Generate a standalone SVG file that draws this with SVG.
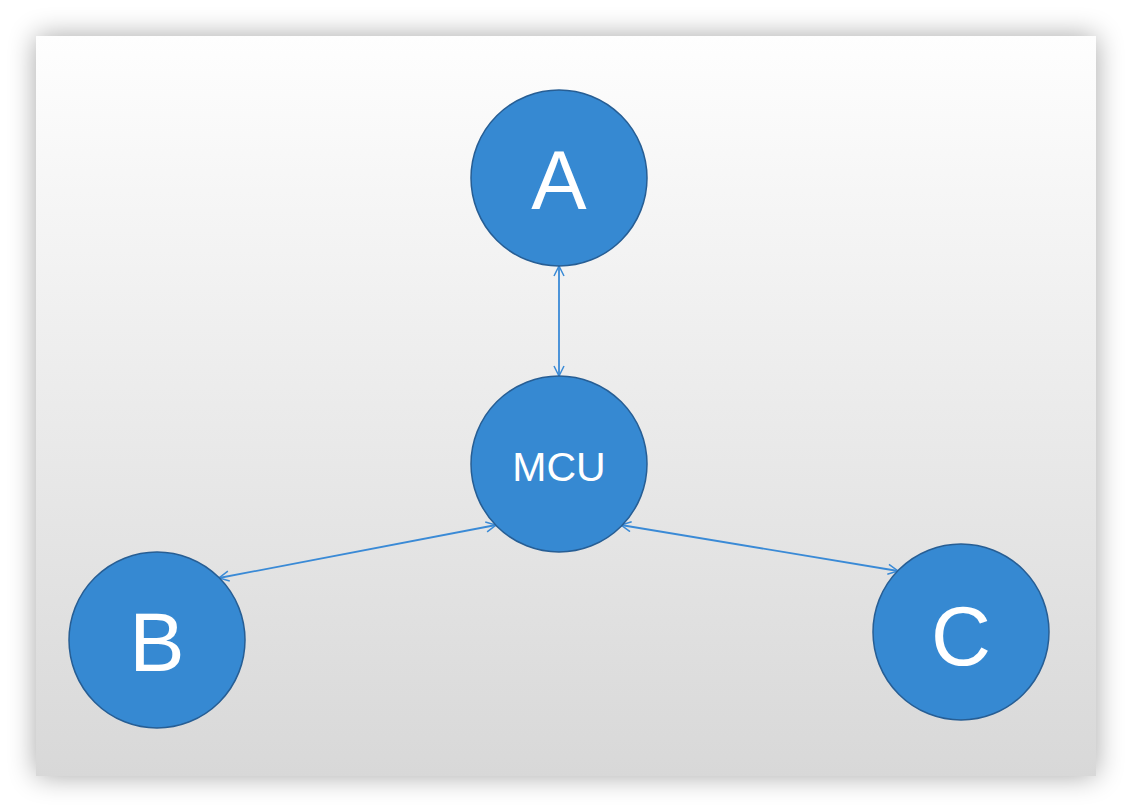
<svg xmlns="http://www.w3.org/2000/svg" width="1132" height="812" viewBox="0 0 1132 812">
<defs>
<linearGradient id="bg" x1="0" y1="0" x2="0" y2="1">
<stop offset="0" stop-color="#fefefe"/>
<stop offset="1" stop-color="#d8d8d8"/>
</linearGradient>
<filter id="sh" x="-10%" y="-10%" width="120%" height="120%">
<feGaussianBlur stdDeviation="14"/>
</filter>
<marker id="ah" viewBox="0 0 12 12" refX="11" refY="6" markerWidth="12" markerHeight="12" markerUnits="userSpaceOnUse" orient="auto-start-reverse">
<path d="M1,1 L11,6 L1,11" fill="none" stroke="#3a8ad6" stroke-width="1.5"/>
</marker>
<style>
.node{fill:#3689d2;stroke:#275e94;stroke-width:1.5}
.lbl{fill:#ffffff;font-family:"Liberation Sans",Arial,sans-serif;text-anchor:middle}
.con{stroke:#3a8ad6;stroke-width:1.8;fill:none;marker-start:url(#ah);marker-end:url(#ah)}
</style>
</defs>
<rect x="0" y="0" width="1132" height="812" fill="#ffffff"/>
<rect x="36" y="36" width="1060" height="740" fill="#000" opacity="0.35" filter="url(#sh)"/>
<rect x="36" y="36" width="1060" height="740" fill="url(#bg)"/>
<g id="connectors">
<line class="con" x1="559" y1="266" x2="559" y2="376"/>
<line class="con" x1="219" y1="578" x2="496" y2="525"/>
<line class="con" x1="621" y1="525" x2="898" y2="571"/>
</g>
<g id="node-A">
<circle class="node" cx="559" cy="178" r="88"/>
<text class="lbl" x="559" y="209" font-size="83">A</text>
</g>
<g id="node-MCU">
<circle class="node" cx="559" cy="464" r="88"/>
<text class="lbl" x="559" y="481" font-size="41">MCU</text>
</g>
<g id="node-B">
<circle class="node" cx="157" cy="640" r="88"/>
<text class="lbl" x="157" y="671" font-size="83">B</text>
</g>
<g id="node-C">
<circle class="node" cx="961" cy="632" r="88"/>
<text class="lbl" x="961" y="665" font-size="83">C</text>
</g>
</svg>
